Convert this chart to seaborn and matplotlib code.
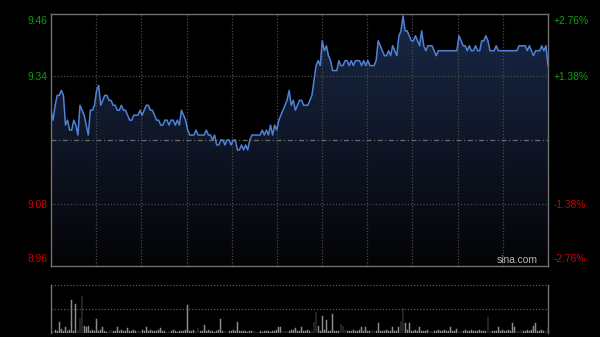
import numpy as np
import pandas as pd
import matplotlib
matplotlib.use("Agg")
import matplotlib.pyplot as plt
from matplotlib.patches import PathPatch
import seaborn as sns

minutes = list(range(241))
price = [
    9.27, 9.25, 9.28, 9.30, 9.30, 9.31, 9.30, 9.24, 9.25, 9.23,
    9.23, 9.25, 9.24, 9.22, 9.28, 9.27, 9.26, 9.24, 9.22, 9.27,
    9.27, 9.28, 9.31, 9.32, 9.28, 9.29, 9.30, 9.30, 9.29, 9.29,
    9.28, 9.28, 9.27, 9.27, 9.28, 9.27, 9.27, 9.26, 9.25, 9.25,
    9.26, 9.26, 9.26, 9.27, 9.26, 9.27, 9.28, 9.28, 9.27, 9.27,
    9.26, 9.25, 9.25, 9.24, 9.24, 9.25, 9.25, 9.24, 9.25, 9.25,
    9.24, 9.25, 9.24, 9.27, 9.26, 9.25, 9.23, 9.22, 9.22, 9.22,
    9.23, 9.22, 9.22, 9.22, 9.22, 9.23, 9.22, 9.22, 9.21, 9.22,
    9.20, 9.20, 9.21, 9.21, 9.20, 9.21, 9.21, 9.20, 9.21, 9.21,
    9.19, 9.19, 9.20, 9.19, 9.20, 9.19, 9.21, 9.22, 9.22, 9.22,
    9.22, 9.22, 9.23, 9.22, 9.23, 9.22, 9.24, 9.22, 9.24, 9.23,
    9.25, 9.26, 9.27, 9.28, 9.29, 9.31, 9.28, 9.29, 9.27, 9.28,
    9.29, 9.29, 9.28, 9.28, 9.28, 9.29, 9.30, 9.33, 9.36, 9.37,
    9.36, 9.41, 9.39, 9.40, 9.38, 9.37, 9.35, 9.35, 9.35, 9.37,
    9.36, 9.36, 9.37, 9.37, 9.36, 9.37, 9.36, 9.37, 9.37, 9.37,
    9.36, 9.37, 9.36, 9.37, 9.36, 9.36, 9.36, 9.37, 9.41, 9.40,
    9.39, 9.38, 9.38, 9.39, 9.38, 9.40, 9.39, 9.38, 9.42, 9.43,
    9.46, 9.43, 9.43, 9.42, 9.41, 9.41, 9.42, 9.41, 9.40, 9.43,
    9.40, 9.39, 9.40, 9.40, 9.40, 9.39, 9.38, 9.39, 9.39, 9.39,
    9.39, 9.39, 9.39, 9.39, 9.39, 9.39, 9.39, 9.42, 9.41, 9.40,
    9.40, 9.39, 9.40, 9.39, 9.39, 9.40, 9.39, 9.39, 9.41, 9.41,
    9.42, 9.41, 9.39, 9.39, 9.39, 9.40, 9.39, 9.39, 9.39, 9.39,
    9.39, 9.39, 9.39, 9.39, 9.39, 9.39, 9.40, 9.40, 9.40, 9.40,
    9.39, 9.40, 9.39, 9.38, 9.39, 9.39, 9.39, 9.40, 9.39, 9.40, 9.36,
]
volume = [
    4, 2, 3, 2, 11, 4, 2, 6, 2, 3, 33, 2, 29, 3, 15, 37, 7, 6, 7, 2,
    3, 2, 14, 2, 3, 6, 2, 1, 2, 3, 2, 2, 6, 2, 3, 2, 2, 5, 2, 2,
    3, 2, 2, 2, 3, 2, 6, 2, 3, 2, 2, 2, 3, 5, 2, 2, 1, 2, 2, 3,
    2, 1, 2, 2, 2, 3, 28, 2, 2, 3, 2, 5, 2, 2, 8, 2, 3, 2, 2, 1,
    2, 3, 14, 2, 2, 1, 2, 2, 3, 2, 11, 2, 2, 2, 2, 1, 2, 2, 2, 1,
    1, 2, 1, 2, 2, 2, 1, 2, 2, 3, 6, 6, 2, 2, 2, 2, 3, 3, 5, 2,
    2, 6, 2, 2, 3, 2, 2, 11, 21, 7, 2, 17, 3, 13, 2, 2, 19, 2, 2, 2,
    9, 7, 3, 2, 2, 2, 3, 2, 2, 3, 6, 2, 6, 2, 2, 3, 2, 2, 10, 2,
    2, 2, 3, 2, 2, 6, 2, 2, 6, 12, 25, 10, 3, 10, 2, 2, 3, 2, 6, 2,
    2, 2, 3, 2, 2, 2, 2, 3, 2, 2, 3, 2, 2, 6, 2, 2, 4, 2, 2, 2,
    3, 2, 2, 3, 2, 2, 2, 3, 2, 2, 2, 16, 2, 2, 2, 2, 6, 2, 3, 2,
    2, 3, 2, 10, 6, 2, 2, 3, 2, 2, 3, 2, 3, 7, 10, 2, 2, 3, 2, 2, 6,
]
pre_close = 9.21
y_ticks = [9.46, 9.34, 9.08, 8.96]
left_labels = ["9.46", "9.34", "9.08", "8.96"]
right_labels = ["+2.76%", "+1.38%", "-1.38%", "-2.76%"]
label_colors = ["#10a010", "#10a010", "#d00000", "#d00000"]

sns.set_theme(style="dark")
plt.rcParams['font.family'] = ['Liberation Sans', 'DejaVu Sans']

df = pd.DataFrame({"minute": minutes, "price": price, "volume": volume})

W, H = 600, 337
fig = plt.figure(figsize=(W / 100, H / 100), dpi=100, facecolor="black")
ax = fig.add_axes([51 / W, 1 - 266 / H, 497 / W, 252 / H])
axv = fig.add_axes([51 / W, 1 - 333 / H, 497 / W, 48 / H])

ymin, ymax = 8.956, 9.464
grid_c = "#4a4a4a"
dot = (0, (1, 1.5))

# ---- price panel ----
ax.set_facecolor("black")
poly = ax.fill_between(df["minute"], df["price"], ymin, color="none", lw=0)
clip = PathPatch(poly.get_paths()[0], transform=ax.transData,
                 facecolor="none", edgecolor="none")
ax.add_patch(clip)
g = np.linspace(1, 0, 256)[:, None, None]
top_c = np.array([0.10, 0.16, 0.28])
bot_c = np.array([0.015, 0.015, 0.025])
img = bot_c + (top_c - bot_c) * g
im = ax.imshow(img, extent=[0, 240, ymin, ymax], aspect="auto",
               origin="upper", zorder=1, interpolation="bilinear")
im.set_clip_path(clip)

for k in range(1, 11):
    ax.axvline(240 * k / 11, color=grid_c, lw=0.9, ls=dot, zorder=2)
for yv in (9.34, 9.08):
    ax.axhline(yv, color=grid_c, lw=0.9, ls=dot, zorder=2)
ax.axhline(pre_close, color="#6a6a6a", lw=0.9, ls=(0, (4, 2, 1, 2)), zorder=2)

sns.lineplot(data=df, x="minute", y="price", ax=ax, color="#4f82d6",
             lw=1.1, zorder=4)

ax.set_xlim(0, 240)
ax.set_ylim(ymin, ymax)
ax.set_xlabel("")
ax.set_ylabel("")
ax.set_xticks([])
ax.grid(False)
ax.set_yticks(y_ticks)
ax.set_yticklabels(left_labels)
ax.tick_params(axis="y", length=0, pad=2.5, labelsize=7.4)
for lab, c in zip(ax.get_yticklabels(), label_colors):
    lab.set_color(c)
ax.get_yticklabels()[0].set_va("top")
ax.get_yticklabels()[-1].set_va("bottom")
for s in ax.spines.values():
    s.set_visible(True)
    s.set_color("#707070")
    s.set_linewidth(1.0)

ax2 = ax.twinx()
ax2.set_ylim(ymin, ymax)
ax2.set_yticks(y_ticks)
ax2.set_yticklabels(right_labels)
ax2.tick_params(axis="y", length=0, pad=4, labelsize=7.4)
for lab, c in zip(ax2.get_yticklabels(), label_colors):
    lab.set_color(c)
ax2.get_yticklabels()[0].set_va("top")
ax2.get_yticklabels()[-1].set_va("bottom")
ax2.grid(False)
for s in ax2.spines.values():
    s.set_visible(False)

ax.text(0.938, 0.022, "sina.com", transform=ax.transAxes, ha="center",
        va="center", color="#b4b4b4", fontsize=7.4, zorder=5)

# ---- volume panel ----
axv.set_facecolor("black")
sns.barplot(data=df, x="minute", y="volume", ax=axv, native_scale=True,
            color="#8c8c8c", saturation=1, width=0.4, errorbar=None,
            linewidth=0.35, edgecolor="#8c8c8c")
axv.set_xlim(0, 240)
axv.set_ylim(0, 48)
axv.set_xticks([])
axv.set_yticks([])
axv.set_xlabel("")
axv.set_ylabel("")
axv.grid(False)
for yv in (24, 48):
    axv.axhline(yv, color="#5a5a5a", lw=0.9, ls=dot, clip_on=False)
for name, s in axv.spines.items():
    if name in ("left", "right"):
        s.set_visible(True)
        s.set_color("#707070")
        s.set_linewidth(1.0)
    else:
        s.set_visible(False)

fig.savefig("out.png", dpi=100, facecolor="black")
